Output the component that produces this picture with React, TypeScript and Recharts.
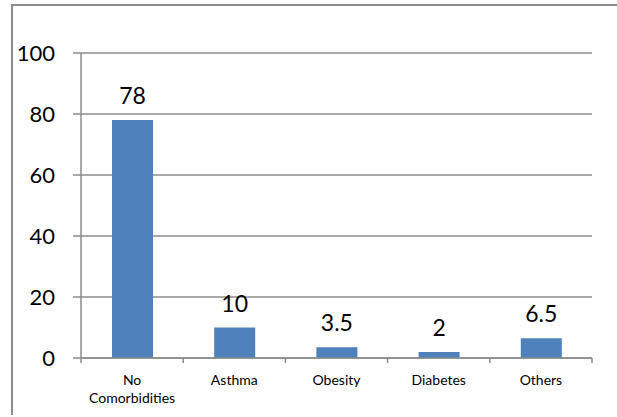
import React from "react";
import { BarChart, Bar, XAxis, YAxis, CartesianGrid, LabelList } from "recharts";

const categories = ["No Comorbidities", "Asthma", "Obesity", "Diabetes", "Others"];
const values = [78, 10, 3.5, 2, 6.5];
const yTicks = [0, 20, 40, 60, 80, 100];

const data = categories.map((name, i) => ({ name, value: values[i] }));

const GRAY = "#8c8c8c";
const FONT = "Lato, 'Open Sans', sans-serif";

const XTick = (props: any) => {
  const { x, y, payload, index, visibleTicksCount, width } = props;
  const half =
    payload && typeof payload.offset === "number" && payload.offset > 0
      ? payload.offset
      : width && visibleTicksCount
      ? width / visibleTicksCount / 2
      : 51;
  const words: string[] = String(payload.value).split(" ");
  const last = index === (visibleTicksCount ?? categories.length) - 1;
  return (
    <g>
      <line x1={x - half} x2={x - half} y1={y} y2={y + 5} stroke={GRAY} strokeWidth={1.5} />
      {last && <line x1={x + half} x2={x + half} y1={y} y2={y + 5} stroke={GRAY} strokeWidth={1.5} />}
      <text x={x} y={y + 27} textAnchor="middle" fontFamily={FONT} fontSize={14} fill="#000">
        {words.map((w, i) => (
          <tspan key={i} x={x} dy={i === 0 ? 0 : 18}>
            {w}
          </tspan>
        ))}
      </text>
    </g>
  );
};

export default function App() {
  return (
    <div style={{ position: "fixed", left: 0, top: 0, width: 617, height: 417, background: "#fff", overflow: "hidden" }}>
      <div
        style={{
          position: "absolute",
          left: 11,
          top: 4,
          width: 640,
          height: 411,
          borderLeft: `2px solid ${GRAY}`,
          borderTop: `2px solid ${GRAY}`,
          boxSizing: "border-box",
        }}
      />
      <div style={{ position: "absolute", left: 0, top: 0 }}>
        <BarChart width={617} height={417} data={data} margin={{ top: 53, right: 25, bottom: 0, left: 0 }}>
          <CartesianGrid vertical={false} stroke={GRAY} strokeWidth={1.5} />
          <XAxis
            dataKey="name"
            height={59}
            tickLine={false}
            tickSize={0}
            tickMargin={0}
            axisLine={{ stroke: GRAY, strokeWidth: 1.5 }}
            tick={<XTick />}
            interval={0}
          />
          <YAxis
            width={81}
            domain={[0, 100]}
            ticks={yTicks}
            tickSize={8}
            tickMargin={18}
            tickLine={{ stroke: GRAY, strokeWidth: 1.5 }}
            axisLine={{ stroke: GRAY, strokeWidth: 1.5 }}
            tick={{ fontFamily: FONT, fontSize: 22, fill: "#000" }}
          />
          <Bar dataKey="value" fill="#4f81bd" barSize={41} isAnimationActive={false}>
            <LabelList dataKey="value" position="top" offset={16} fontFamily={FONT} fontSize={23} fill="#000" />
          </Bar>
        </BarChart>
      </div>
    </div>
  );
}
